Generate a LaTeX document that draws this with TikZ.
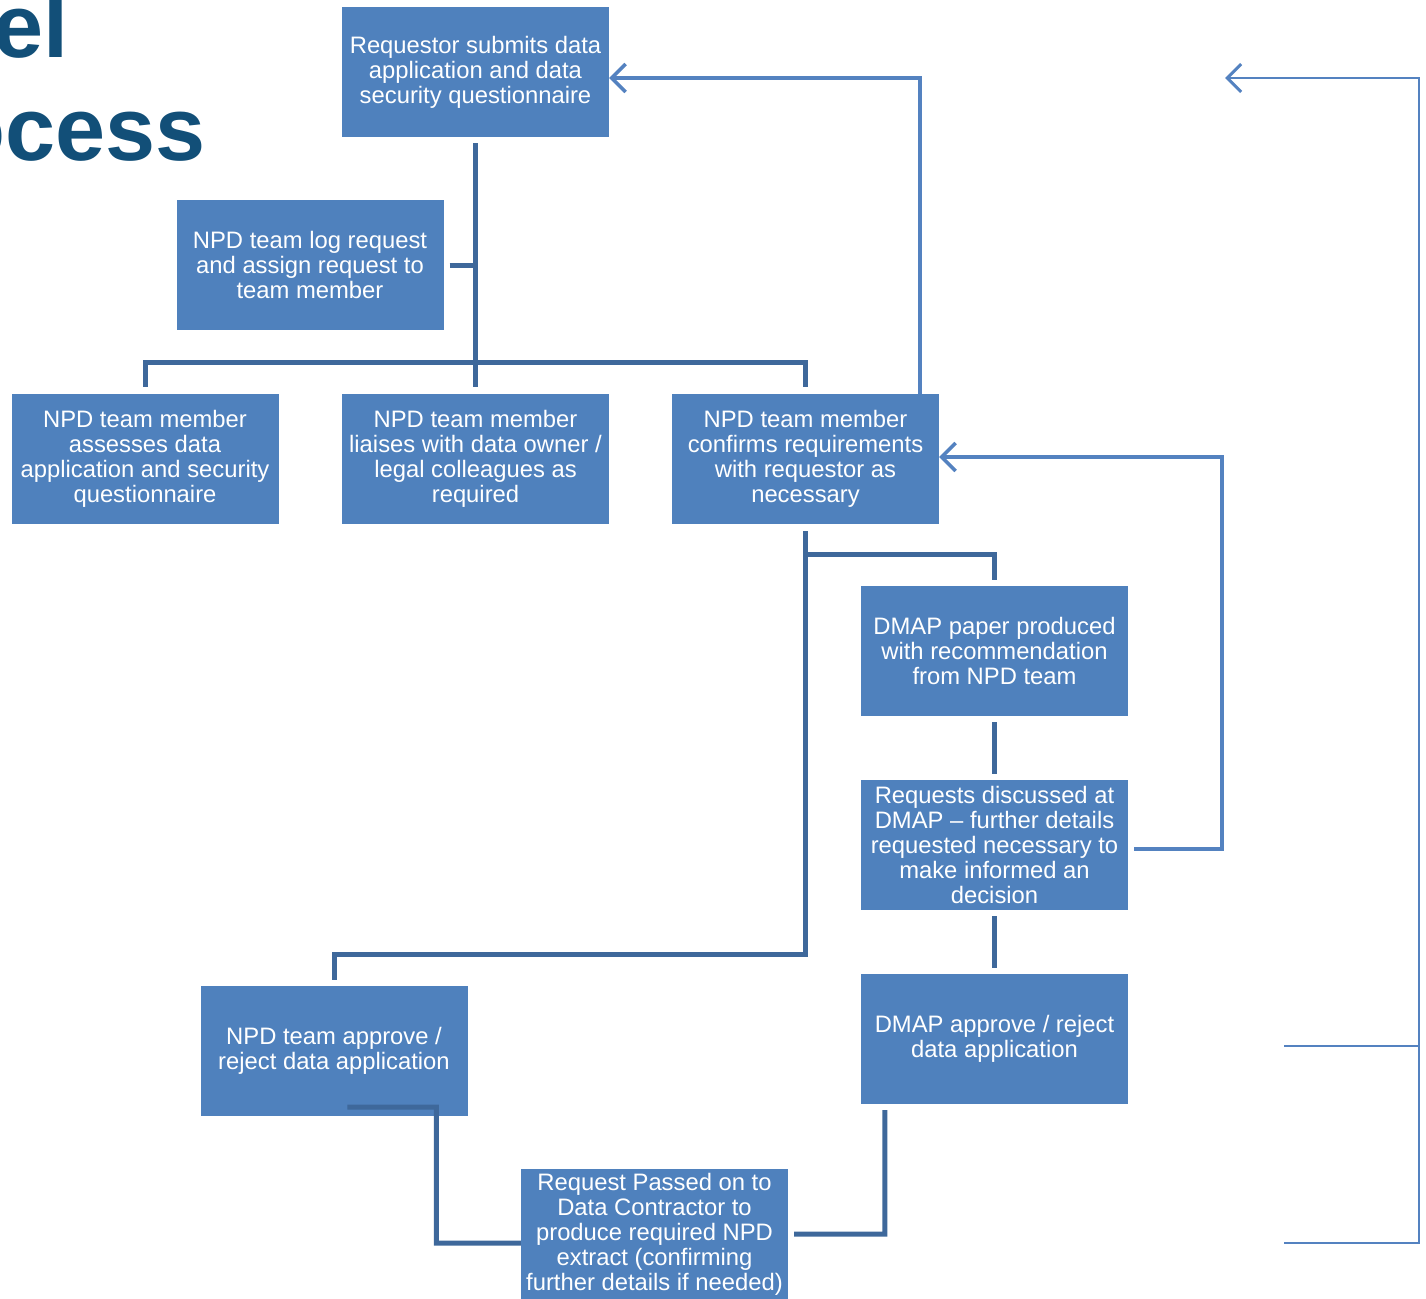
\documentclass[tikz,border=0pt]{standalone}
\usepackage{fontspec}
\setmainfont{Liberation Sans}
\usetikzlibrary{arrows.meta,calc}
\definecolor{boxblue}{RGB}{79,129,189}
\definecolor{connblue}{RGB}{62,104,155}
\definecolor{fbblue}{RGB}{84,130,192}
\definecolor{titleblue}{RGB}{18,79,120}
\tikzset{
  box/.style={fill=boxblue, text=white, minimum width=267pt, minimum height=130pt,
    inner sep=0pt, align=center, font=\fontsize{23.8}{25}\selectfont},
  conn/.style={draw=connblue, line width=5pt},
  fb/.style={draw=fbblue, line width=3.5pt, -{Straight Barb[length=14pt,width=28pt,line width=3.5pt]}},
  fbthin/.style={draw=fbblue, line width=2.5pt},
  titletext/.style={text=titleblue, font=\fontsize{90}{100}\selectfont\bfseries, inner sep=0pt}
}
\begin{document}
\begin{tikzpicture}[x=1pt,y=-1pt]
\useasboundingbox (0,0) rectangle (1426,1298);
\clip (0,0) rectangle (1426,1298);
\node[titletext, anchor=base east] (t1) at (69,58) {el};
\node[titletext, anchor=base east] (t2) at (206,160) {ocess};

\node[box] (req) at (475.5,72) {Requestor submits data\\application and data\\security questionnaire};
\node[box] (log) at (310,265) {NPD team log request\\and assign request to\\team member};
\node[box] (assess) at (145,459) {NPD team member\\assesses data\\application and security\\questionnaire};
\node[box] (liaise) at (475.5,459) {NPD team member\\liaises with data owner /\\legal colleagues as\\required};
\node[box] (confirm) at (805.5,459) {NPD team member\\confirms requirements\\with requestor as\\necessary};
\node[box] (paper) at (994.5,651) {DMAP paper produced\\with recommendation\\from NPD team};
\node[box] (disc) at (994.5,845) {Requests discussed at\\DMAP -- further details\\requested necessary to\\make informed an\\decision};
\node[box] (dmapok) at (994.5,1039) {DMAP approve / reject\\data application};
\node[box] (npdok) at (334,1051) {NPD team approve /\\reject data application};
\node[box] (pass) at (654.5,1234) {Request Passed on to\\Data Contractor to\\produce required NPD\\extract (confirming\\further details if needed)};

\coordinate (barY) at (0,362);
\coordinate (lowY) at (0,954);
\coordinate (brY) at (0,554);

\draw[conn] ($(req.south)+(0,6)$) -- ($(liaise.north)+(0,-7)$);
\draw[conn] ($(log.east)+(6,0)$) -- (log.east -| req.south);
\draw[conn] ($(assess.north)+(0,-7)$) -- (assess.north |- barY) -- (confirm.north |- barY) -- ($(confirm.north)+(0,-7)$);
\draw[conn] ($(confirm.south)+(0,7)$) -- (confirm.south |- lowY) -- (npdok.north |- lowY) -- ($(npdok.north)+(0,-6)$);
\draw[conn] (confirm.south |- brY) -- (paper.north |- brY) -- ($(paper.north)+(0,-6)$);
\draw[conn] ($(paper.south)+(0,6)$) -- ($(disc.north)+(0,-6)$);
\draw[conn] ($(disc.south)+(0,6)$) -- ($(dmapok.north)+(0,-6)$);
\draw[conn] ($(npdok.south west)+(147,-9)$) -- ($(npdok.south west)+(236,-9)$) -- ($(npdok.south west)+(236,127)$) -- ($(pass.west)+(0,9)$);
\draw[conn] ($(dmapok.south west)+(24,6)$) -- ($(dmapok.south west)+(24,130)$) -- ($(pass.east)+(6,0)$);

\draw[fb] ($(confirm.north east)+(-19,0)$) |- ($(req.east)+(0,6)$);
\draw[fb] ($(disc.east)+(6,4)$) -- ($(disc.east)+(94,4)$) |- ($(confirm.east)+(0,-2)$);

\coordinate (r0) at (1284,1243);
\coordinate (r1) at (1419,1243);
\coordinate (r2) at (1419,78);
\coordinate (r3) at (1225,78);
\coordinate (r4) at (1284,1046);
\coordinate (r5) at (1419,1046);
\draw[fbthin, -{Straight Barb[length=14pt,width=28pt,line width=3pt]}] (r0) -- (r1) -- (r2) -- (r3);
\draw[fbthin] (r4) -- (r5);
\end{tikzpicture}
\end{document}
